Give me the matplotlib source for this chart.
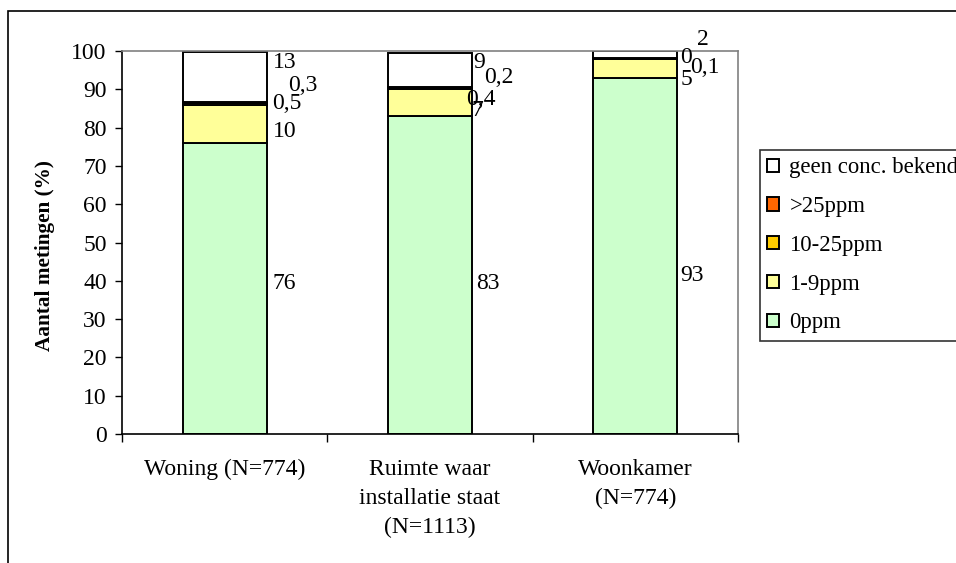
import matplotlib.pyplot as plt
import matplotlib.patches as mpatches
import numpy as np

plt.rcParams['font.family'] = ['Liberation Serif', 'DejaVu Serif']

categories = ["Woning (N=774)", "Ruimte waar\ninstallatie staat\n(N=1113)", "Woonkamer\n(N=774)"]
series_names = ["0ppm", "1-9ppm", "10-25ppm", ">25ppm", "geen conc. bekend"]
colors = ["#CCFFCC", "#FFFF99", "#FFCC00", "#FF6600", "#FFFFFF"]

ppm_0 = [76, 83, 93]
ppm_1_9 = [10, 7, 5]
ppm_10_25 = [0.5, 0.4, 0.1]
ppm_25 = [0.3, 0.2, 0]
geen = [13, 9, 2]

labels = [
    ["76", "83", "93"],
    ["10", "7", "5"],
    ["0,5", "0,4", "0,1"],
    ["0,3", "0,2", "0"],
    ["13", "9", "2"],
]

# label shifts (x in category units from bar centre, y in data units from segment centre)
# so the crowded Excel-style labels land where they did in the original
label_dx = [
    [0.234, 0.224, 0.22],
    [0.234, 0.20, 0.22],
    [0.229, 0.175, 0.268],
    [0.307, 0.263, 0.22],
    [0.234, 0.21, 0.30],
]
label_dy = [
    [1.2, -2.3, -5.2],
    [-2.1, -2.0, -3.0],
    [0.15, -2.8, -2.4],
    [4.45, 2.5, 0.3],
    [3.6, 2.0, 3.8],
]


def main():
    fig = plt.figure(figsize=(9.56, 5.63), dpi=100)
    ax = fig.add_axes([0.1276, 0.2291, 0.6444, 0.6803])

    # chart area frame, cut off at the right and bottom like the original
    frame = mpatches.Rectangle((8 / 956, -0.1), 1.2, 1 - 11 / 563 + 0.1,
                               transform=fig.transFigure, fill=False,
                               edgecolor="black", linewidth=1.2, clip_on=False)
    fig.add_artist(frame)

    data = [ppm_0, ppm_1_9, ppm_10_25, ppm_25, geen]
    x = np.arange(len(categories))
    bottom = np.zeros(len(categories))
    handles = []
    for i, vals in enumerate(data):
        vals = np.array(vals, dtype=float)
        b = ax.bar(x, vals, width=0.41, bottom=bottom, color=colors[i],
                   edgecolor="black", linewidth=1.4, label=series_names[i])
        handles.append(b)
        for j in range(len(x)):
            yc = bottom[j] + vals[j] / 2 + label_dy[i][j]
            ax.text(x[j] + label_dx[i][j], yc, labels[i][j], fontsize=17,
                    ha="left", va="center", clip_on=False)
        bottom += vals

    ax.set_xlim(-0.5, 2.5)
    ax.set_ylim(0, 100)
    ax.set_yticks(np.arange(0, 101, 10))
    ax.tick_params(axis="y", labelsize=17, length=5, width=1, direction="out", pad=6)
    ax.set_xticks([-0.5, 0.5, 1.5, 2.5])
    ax.set_xticklabels([])
    ax.tick_params(axis="x", which="major", length=6, width=1, direction="out")
    ax.set_xticks(x, minor=True)
    ax.set_xticklabels(categories, minor=True, fontsize=17, linespacing=1.5)
    ax.tick_params(axis="x", which="minor", length=0, pad=18)

    ax.spines["left"].set_color("black")
    ax.spines["bottom"].set_color("black")
    ax.spines["top"].set_color("#808080")
    ax.spines["right"].set_color("#808080")
    for s in ax.spines.values():
        s.set_linewidth(1.2)

    ax.set_ylabel("Aantal metingen (%)", fontsize=15.3, fontweight="bold")
    ax.yaxis.set_label_coords(-0.108, 0.465)

    leg = fig.legend(handles[::-1], series_names[::-1], loc="upper left",
                     bbox_to_anchor=(760 / 956, 1 - 150 / 563), fontsize=16.4,
                     frameon=True, fancybox=False, edgecolor="black",
                     handlelength=0.52, handleheight=0.52, handletextpad=0.45,
                     labelspacing=0.78, borderpad=0.32, borderaxespad=0)
    leg.get_frame().set_linewidth(1.2)

    plt.savefig("out.png", dpi=100)


if __name__ == "__main__":
    main()
